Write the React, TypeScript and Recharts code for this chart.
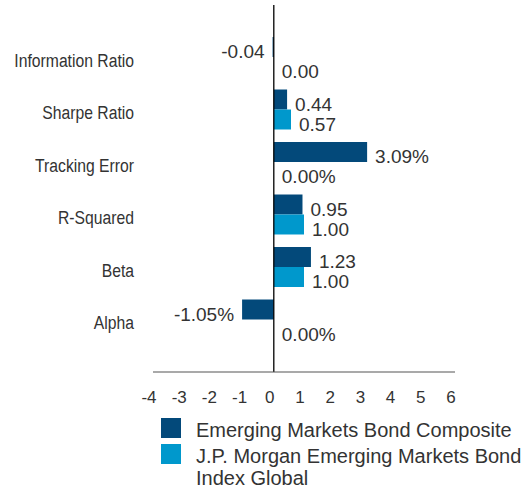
import React from "react";
import { BarChart, Bar, XAxis, YAxis, ReferenceLine, Legend, LabelList } from "recharts";

const categories = ["Information Ratio", "Sharpe Ratio", "Tracking Error", "R-Squared", "Beta", "Alpha"];
const compositeValues = [-0.04, 0.44, 3.09, 0.95, 1.23, -1.05];
const indexValues = [0.0, 0.57, 0.0, 1.0, 1.0, 0.0];
const compositeLabels = ["-0.04", "0.44", "3.09%", "0.95", "1.23", "-1.05%"];
const indexLabels = ["0.00", "0.57", "0.00%", "1.00", "1.00", "0.00%"];
const xTicks = [-4, -3, -2, -1, 0, 1, 2, 3, 4, 5, 6];
const seriesNames = ["Emerging Markets Bond Composite", "J.P. Morgan Emerging Markets Bond Index Global"];

const DARK = "#03497A";
const LIGHT = "#0098CC";
const FONT = "'Liberation Sans', Arial, sans-serif";
const TEXT = "#333";

const data = categories.map((name, i) => ({
  name,
  composite: compositeValues[i],
  index: indexValues[i],
  compositeLabel: compositeLabels[i],
  indexLabel: indexLabels[i],
}));

const valueLabel = (props: any) => {
  const { x, y, width, height, value } = props;
  const left = Math.min(x, x + width);
  const right = Math.max(x, x + width);
  const neg = typeof value === "string" && value.startsWith("-");
  return (
    <text
      x={neg ? left - 8 : right + 8}
      y={y + height / 2 + 11}
      textAnchor={neg ? "end" : "start"}
      fontSize={19}
      fontFamily={FONT}
      fill={TEXT}
    >
      {value}
    </text>
  );
};

const YTick = (props: any) => {
  const { x, y, payload } = props;
  return (
    <text
      transform={`translate(${x},${y + 9.5}) scale(0.85,1)`}
      textAnchor="end"
      fontSize={18.5}
      fontFamily={FONT}
      fill={TEXT}
    >
      {payload.value}
    </text>
  );
};

const XTick = (props: any) => {
  const { x, y, payload } = props;
  return (
    <text x={x - 4} y={y + 31} textAnchor="middle" fontSize={17} fontFamily={FONT} fill={TEXT}>
      {payload.value}
    </text>
  );
};

const renderLegend = () => {
  const colors = [DARK, LIGHT];
  return (
    <div style={{ position: "relative", height: 76, width: 525, fontFamily: FONT }}>
      {seriesNames.map((n, i) => (
        <div
          key={n}
          style={{ position: "absolute", left: 161, top: 1 + i * 26, display: "flex", alignItems: "flex-start" }}
        >
          <div style={{ width: 20, height: 20, background: colors[i], flex: "none" }} />
          <div
            style={{
              marginLeft: 15,
              marginTop: 1,
              width: 329,
              fontSize: 20,
              lineHeight: "22px",
              color: TEXT,
            }}
          >
            {n}
          </div>
        </div>
      ))}
    </div>
  );
};

const tinyForZero = (value: any) => (Number(value) === 0 ? 0.01 : 0);

export default function App() {
  return (
    <div style={{ position: "absolute", left: 0, top: 0 }}>
      <BarChart
        width={525}
        height={493}
        data={data}
        layout="vertical"
        margin={{ top: 5, right: 70, left: 0, bottom: 0 }}
        barSize={20}
        barGap={0}
      >
        <XAxis
          type="number"
          domain={[-4, 6]}
          ticks={xTicks}
          interval={0}
          height={45}
          tickLine={false}
          tickSize={0}
          tickMargin={0}
          axisLine={{ stroke: "#555", strokeWidth: 1.2 }}
          tick={<XTick />}
        />
        <YAxis
          type="category"
          dataKey="name"
          width={153}
          axisLine={false}
          tickLine={false}
          tickSize={0}
          tickMargin={19}
          padding={{ top: 26, bottom: 26 }}
          tick={<YTick />}
          interval={0}
        />
        <Legend verticalAlign="bottom" content={renderLegend} wrapperStyle={{ left: 0, width: 525 }} />
        <Bar dataKey="composite" name={seriesNames[0]} fill={DARK} isAnimationActive={false} minPointSize={tinyForZero}>
          <LabelList dataKey="compositeLabel" content={valueLabel} />
        </Bar>
        <Bar dataKey="index" name={seriesNames[1]} fill={LIGHT} isAnimationActive={false} minPointSize={tinyForZero}>
          <LabelList dataKey="indexLabel" content={valueLabel} />
        </Bar>
        <ReferenceLine x={0} stroke="#000" strokeWidth={1.3} />
      </BarChart>
    </div>
  );
}
